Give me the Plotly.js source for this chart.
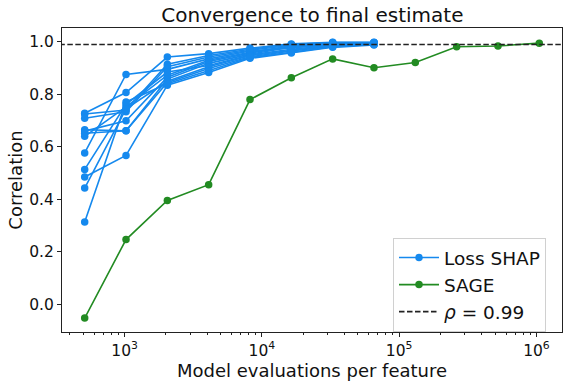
<!DOCTYPE html>
<html>
<head>
<meta charset="utf-8">
<script src="https://cdn.plot.ly/plotly-3.0.1.min.js"></script>
<style>html,body{margin:0;padding:0;background:#fff;}</style>
</head>
<body>
<div id="chart" style="width:568px;height:388px;"></div>
<script>
// Model evaluations per feature
const evalsShap = [512, 1024, 2048, 4096, 8192, 16384, 32768, 65536];
const evalsSage = [512, 1024, 2048, 4096, 8192, 16384, 32768, 65536, 131072, 262144, 524288, 1048576];

// Loss SHAP runs (correlation with final estimate)
const shap01 = [0.728, 0.807, 0.942, 0.955, 0.976, 0.992, 0.998, 0.998];
const shap02 = [0.725, 0.740, 0.915, 0.948, 0.972, 0.990, 0.997, 0.997];
const shap03 = [0.709, 0.734, 0.905, 0.942, 0.968, 0.987, 0.995, 0.996];
const shap04 = [0.665, 0.661, 0.858, 0.918, 0.953, 0.979, 0.990, 0.994];
const shap05 = [0.660, 0.699, 0.865, 0.925, 0.957, 0.982, 0.992, 0.995];
const shap06 = [0.652, 0.661, 0.845, 0.898, 0.943, 0.965, 0.983, 0.991];
const shap07 = [0.640, 0.752, 0.873, 0.930, 0.960, 0.985, 0.994, 0.996];
const shap08 = [0.577, 0.876, 0.895, 0.935, 0.965, 0.976, 0.989, 0.994];
const shap09 = [0.514, 0.762, 0.885, 0.910, 0.950, 0.972, 0.987, 0.993];
const shap10 = [0.485, 0.567, 0.835, 0.883, 0.937, 0.957, 0.979, 0.988];
const shap11 = [0.443, 0.745, 0.850, 0.905, 0.947, 0.968, 0.985, 0.992];
const shap12 = [0.314, 0.771, 0.840, 0.890, 0.940, 0.960, 0.981, 0.990];
const shapRuns = [shap01, shap02, shap03, shap04, shap05, shap06, shap07, shap08, shap09, shap10, shap11, shap12];

// SAGE
const sageValues = [-0.052, 0.247, 0.396, 0.456, 0.780, 0.863, 0.935, 0.901, 0.921, 0.981, 0.984, 0.995];

// Reference level
const rhoLevel = 0.99;

// Axis ticks
const xTickVals = [1e3, 1e4, 1e5, 1e6];
const xTickText = ['10<sup>3</sup>', '10<sup>4</sup>', '10<sup>5</sup>', '10<sup>6</sup>'];
const yTickVals = [0.0, 0.2, 0.4, 0.6, 0.8, 1.0];

const blue = '#1589EE';
const green = '#228B22';

const minorVals = [];
for (let d = 100; d <= 1e6; d *= 10) {
  for (let m = 2; m <= 9; m++) minorVals.push(m * d);
}

const traces = [];
shapRuns.forEach((run, i) => {
  traces.push({
    x: evalsShap, y: run, type: 'scatter', mode: 'lines+markers',
    name: 'Loss SHAP', legendgroup: 'shap', showlegend: i === 0,
    line: {color: blue, width: 1.6}, marker: {color: blue, size: 7.5}
  });
});
traces.push({
  x: evalsSage, y: sageValues, type: 'scatter', mode: 'lines+markers',
  name: 'SAGE', line: {color: green, width: 1.6}, marker: {color: green, size: 7.5}
});
traces.push({
  x: [100, 1e7], y: [rhoLevel, rhoLevel], type: 'scatter', mode: 'lines',
  name: '<i>ρ</i> = 0.99', line: {color: '#222', width: 1.6, dash: '5.5px,2.5px'},
  hoverinfo: 'skip'
});

const font = {family: 'DejaVu Sans, sans-serif', color: '#111'};

const layout = {
  width: 568, height: 388,
  margin: {l: 62, r: 6, t: 28, b: 56},
  paper_bgcolor: '#fff', plot_bgcolor: '#fff',
  font: Object.assign({size: 15}, font),
  title: {text: 'Convergence to final estimate', font: Object.assign({size: 20}, font),
          x: 0.55, xanchor: 'center', y: 0.962, yanchor: 'middle'},
  showlegend: true,
  legend: {
    x: 0.662, y: 0.0, xanchor: 'left', yanchor: 'bottom',
    bgcolor: 'rgba(255,255,255,0.8)', bordercolor: '#d0d0d0', borderwidth: 1,
    font: Object.assign({size: 18.5}, font), tracegroupgap: 0, itemwidth: 40
  },
  xaxis: {
    type: 'log', range: [2.544, 6.186],
    tickmode: 'array', tickvals: xTickVals, ticktext: xTickText,
    ticks: 'outside', ticklen: 4, tickwidth: 1, tickcolor: '#222',
    showgrid: false, zeroline: false,
    showline: true, linecolor: '#222', linewidth: 1, mirror: true,
    tickfont: Object.assign({size: 15.5}, font),
    minor: {tickmode: 'array', tickvals: minorVals, ticks: 'outside', ticklen: 2, tickcolor: '#222', showgrid: false},
    title: {text: 'Model evaluations per feature', font: Object.assign({size: 18}, font), standoff: 4}
  },
  yaxis: {
    range: [-0.105, 1.0526],
    tickmode: 'array', tickvals: yTickVals, tickformat: '.1f',
    ticks: 'outside', ticklen: 4, tickwidth: 1, tickcolor: '#222',
    showgrid: false, zeroline: false,
    showline: true, linecolor: '#222', linewidth: 1, mirror: true,
    tickfont: Object.assign({size: 15.5}, font),
    title: {text: 'Correlation', font: Object.assign({size: 18}, font), standoff: 1}
  }
};

Plotly.newPlot('chart', traces, layout, {displayModeBar: false, staticPlot: true});
</script>
</body>
</html>
